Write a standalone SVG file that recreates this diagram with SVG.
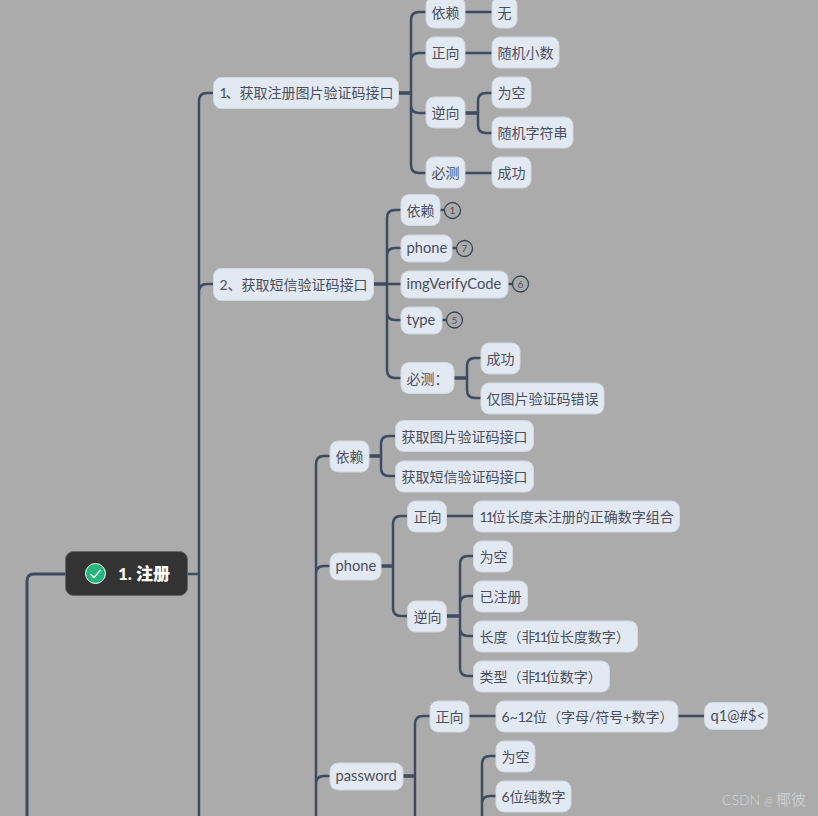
<svg xmlns="http://www.w3.org/2000/svg" width="818" height="816" viewBox="0 0 818 816">
<style>
text{font-family:"Lato","Noto Sans CJK SC",sans-serif;font-size:14px;fill:#4a4f60}
.l{font-size:14.7px}
.n rect{fill:#e3e9f2;stroke:#d3d7dc;stroke-width:1}
.c path{fill:none;stroke:#3f4b61;stroke-width:2.5;stroke-linecap:butt}
.c .s{stroke-width:3.5}
.b circle{fill:none;stroke:#3a4356;stroke-width:1.3}
.b text{font-size:10px;text-anchor:middle;fill:#4a4f60}
</style>
<rect width="818" height="816" fill="#ababab"/>
<g class="c" id="connectors">
<path d="M65 574H34Q27 574 27 581V816" style="stroke-width:3"/>
<path d="M187 574H199M214 93H207Q199 93 199 101V816M214 284H207Q199 284 199 292"/>
<path class="s" d="M399 93H411M374 284H387M465 113H478M454 378H467M369 456H381M381 566H393M447 616H460M403 776H415"/>
<path d="M426 12H419Q411 12 411 20V165Q411 173 419 173H426M426 53H419Q411 53 411 61M411 105Q411 113 419 113H426"/>
<path d="M465 12H492M465 53H492M465 173H492"/>
<path d="M492 93H486Q478 93 478 101V125Q478 133 486 133H492"/>
<path d="M387 284H401M401 210H395Q387 210 387 218V370Q387 378 395 378H401M401 248H395Q387 248 387 256M387 312Q387 320 395 320H401"/>
<path d="M440 210H444M452 248H456M508 284H512M442 320H446"/>
<path d="M481 358H475Q467 358 467 366V390Q467 398 475 398H481"/>
<path d="M330 456H324Q316 456 316 464V816M330 566H324Q316 566 316 574M330 776H324Q316 776 316 784"/>
<path d="M395 436H389Q381 436 381 444V468Q381 476 389 476H395"/>
<path d="M407 516H401Q393 516 393 524V608Q393 616 401 616H407"/>
<path d="M447 516H473"/>
<path d="M473 556H468Q460 556 460 564V668Q460 676 468 676H473M473 596H468Q460 596 460 604M460 628Q460 636 468 636H473"/>
<path d="M430 716H423Q415 716 415 724V816"/>
<path d="M469 716H496M678 716H704"/>
<path d="M496 756H490Q482 756 482 764V816M496 796H490Q482 796 482 804"/>
</g>
<g id="root"><rect x="65.500" y="551.500" width="122" height="44" rx="8" fill="#333333" stroke="#666666"/>
<circle cx="95.500" cy="573.500" r="10" fill="#27b57f" stroke="#ffffff" stroke-width="1"/>
<path d="M90.500 574L94 577.500L100.500 570" fill="none" stroke="#ffffff" stroke-width="1.300"/>
<text x="118" y="580" style="font-size:17px;font-weight:900;fill:#ffffff">1. 注册</text></g>
<g class="n" id="n1"><rect x="213.500" y="77.500" width="185" height="31" rx="8"/><text x="219.500" y="98" dx="0 -2">1、获取注册图片验证码接口</text></g>
<g class="n" id="n1a"><rect x="426" y="-3" width="39" height="31" rx="8"/><text x="431.500" y="18">依赖</text></g>
<g class="n" id="n1a1"><rect x="492" y="-3" width="25" height="31" rx="8"/><text x="497.500" y="18">无</text></g>
<g class="n" id="n1b"><rect x="426" y="37" width="39" height="31" rx="8"/><text x="431.500" y="58">正向</text></g>
<g class="n" id="n1b1"><rect x="492" y="37" width="67" height="31" rx="8"/><text x="497.500" y="58">随机小数</text></g>
<g class="n" id="n1c"><rect x="426" y="97" width="39" height="31" rx="8"/><text x="431.500" y="118">逆向</text></g>
<g class="n" id="n1c1"><rect x="492" y="77" width="39" height="31" rx="8"/><text x="497.500" y="98">为空</text></g>
<g class="n" id="n1c2"><rect x="492" y="117" width="81" height="31" rx="8"/><text x="497.500" y="138">随机字符串</text></g>
<g class="n" id="n1d"><rect x="426" y="157" width="39" height="31" rx="8"/><text x="431.500" y="178">必测</text></g>
<g class="n" id="n1d1"><rect x="492" y="157" width="39" height="31" rx="8"/><text x="497.500" y="178">成功</text></g>
<g class="n" id="n2"><rect x="213.500" y="268.500" width="160" height="32" rx="8"/><text x="219.500" y="290">2、获取短信验证码接口</text></g>
<g class="n" id="n2a"><rect x="401" y="194.500" width="39" height="31" rx="8"/><text x="406.500" y="216">依赖</text></g>
<g class="b" id="b1"><circle cx="452.500" cy="210.500" r="8"/><text x="452.500" y="214">1</text></g>
<g class="n" id="n2b"><rect x="401" y="235" width="51" height="27" rx="8"/><text class="l" x="406.500" y="253">phone</text></g>
<g class="b" id="b7"><circle cx="464.500" cy="248.500" r="8"/><text x="464.500" y="252">7</text></g>
<g class="n" id="n2c"><rect x="401" y="271" width="107" height="27" rx="8"/><text class="l" x="406.500" y="289">imgVerifyCode</text></g>
<g class="b" id="b6"><circle cx="520.500" cy="284" r="8"/><text x="520.500" y="287.500">6</text></g>
<g class="n" id="n2d"><rect x="401" y="307" width="41" height="27" rx="8"/><text class="l" x="406.500" y="325">type</text></g>
<g class="b" id="b5"><circle cx="454.500" cy="320" r="8"/><text x="454.500" y="323.500">5</text></g>
<g class="n" id="n2e"><rect x="401" y="362.500" width="53" height="31" rx="8"/><text x="406.500" y="384">必测：</text></g>
<g class="n" id="n2e1"><rect x="481" y="343" width="39" height="31" rx="8"/><text x="486.500" y="364">成功</text></g>
<g class="n" id="n2e2"><rect x="481" y="383" width="123" height="31" rx="8"/><text x="486.500" y="404">仅图片验证码错误</text></g>
<g class="n" id="n3a"><rect x="330" y="441" width="39" height="31" rx="8"/><text x="335.500" y="462">依赖</text></g>
<g class="n" id="n3a1"><rect x="395.500" y="420.500" width="138" height="31" rx="8"/><text x="401.500" y="442">获取图片验证码接口</text></g>
<g class="n" id="n3a2"><rect x="395.500" y="461" width="138" height="31" rx="8"/><text x="401.500" y="482">获取短信验证码接口</text></g>
<g class="n" id="n3b"><rect x="330" y="553" width="51" height="27" rx="8"/><text class="l" x="335.500" y="571">phone</text></g>
<g class="n" id="n3b1"><rect x="407.500" y="501" width="39" height="31" rx="8"/><text x="413.500" y="522">正向</text></g>
<g class="n" id="n3b11"><rect x="473.500" y="501" width="206" height="31" rx="8"/><text x="479.500" y="522" dx="0 -2 -2">11位长度未注册的正确数字组合</text></g>
<g class="n" id="n3b2"><rect x="407.500" y="601" width="39" height="31" rx="8"/><text x="413.500" y="622">逆向</text></g>
<g class="n" id="n3b21"><rect x="473.500" y="541" width="39" height="31" rx="8"/><text x="479.500" y="562">为空</text></g>
<g class="n" id="n3b22"><rect x="473.500" y="581" width="54" height="31" rx="8"/><text x="479.500" y="602">已注册</text></g>
<g class="n" id="n3b23"><rect x="473.500" y="621" width="164" height="31" rx="8"/><text x="479.500" y="642" dx="0 0 0 0 -2 -2 -2">长度（非11位长度数字）</text></g>
<g class="n" id="n3b24"><rect x="473.500" y="661" width="136" height="31" rx="8"/><text x="479.500" y="682" dx="0 0 0 0 -2 -2 -2">类型（非11位数字）</text></g>
<g class="n" id="n3c"><rect x="330" y="763" width="73" height="27" rx="8"/><text class="l" x="335.500" y="781">password</text></g>
<g class="n" id="n3c1"><rect x="430" y="701" width="39" height="31" rx="8"/><text x="435.500" y="722">正向</text></g>
<g class="n" id="n3c11"><rect x="496" y="701" width="182" height="31" rx="8"/><text x="501.500" y="722" dx="0 0 0 -1">6~12位（字母/符号+数字）</text></g>
<g class="n" id="n3c111"><rect x="704.500" y="702.500" width="63" height="27" rx="8"/><text class="l" x="710.500" y="721">q1@#$&lt;</text></g>
<g class="n" id="n3c21"><rect x="496" y="741" width="39" height="31" rx="8"/><text x="501.500" y="762">为空</text></g>
<g class="n" id="n3c22"><rect x="496" y="781" width="75" height="31" rx="8"/><text x="501.500" y="802">6位纯数字</text></g>
<text id="watermark" x="722" y="805" dx="0 0 0 0 0 0 0 0" style="font-size:14px;font-weight:300;fill:#d6d6d6">CSDN <tspan x="764" style="font-size:11px">@</tspan><tspan x="776" style="font-size:15px">椰彼</tspan></text>
</svg>
